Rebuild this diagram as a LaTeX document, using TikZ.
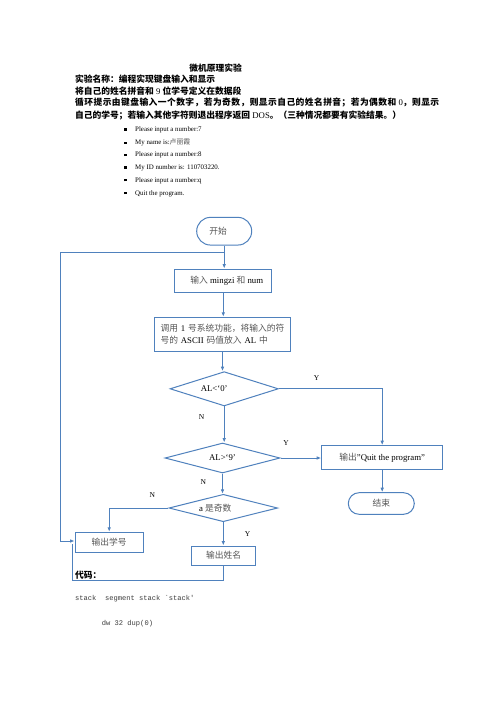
\documentclass[tikz,border=0pt]{standalone}
\usepackage{fontspec}
\setmainfont{Liberation Serif}
\newfontfamily\cjk{Noto Sans CJK SC}
\newfontfamily\codefont{Liberation Mono}
\usetikzlibrary{shapes.geometric,arrows.meta}
\definecolor{flow}{RGB}{79,129,189}
\definecolor{zhgray}{RGB}{85,85,85}
\definecolor{codegray}{RGB}{60,60,60}
\newcommand\myzh[1]{{\cjk\color{zhgray}#1}}
\newcommand\myzhb[1]{{\cjk\bfseries #1}}
\newcommand\bulmark{\makebox[11pt][l]{\rule[0.9pt]{2.4pt}{2.4pt}}}
\begin{document}
\begin{tikzpicture}[x=1pt,y=-1pt,
  line/.style={draw=flow,line width=0.9pt},
  arrow/.style={line,-{Latex[length=4.5pt,width=3.6pt]}},
  box/.style={draw=flow,line width=1pt,fill=white,inner sep=0pt,
    font=\fontsize{8.75}{11.7}\selectfont},
  dia/.style={box,diamond,aspect=3},
  hdr/.style={inner sep=0pt,font=\fontsize{8.75}{10.5}\selectfont},
  hdrw/.style={hdr,anchor=west},
  bul/.style={inner sep=0pt,anchor=west,font=\fontsize{6.9}{8}\selectfont},
  yn/.style={inner sep=0pt,font=\fontsize{7.5}{9}\selectfont},
  code/.style={inner sep=0pt,anchor=west,text=codegray,font=\codefont\fontsize{7.1}{9}\selectfont}]
\fill[white] (0,0) rectangle (496,702);
\useasboundingbox (0,0) rectangle (496,702);

% header text
\node[hdr] (t0) at (215.5,68) {\myzhb{微机原理实验}};
\node[hdrw] (t1) at (75,79) {\myzhb{实验名称：编程实现键盘输入和显示}};
\node[hdrw] (t2) at (75,91) {\myzhb{将自己的姓名拼音和} 9 \myzhb{位学号定义在数据段}};
\node[hdrw] (t3) at (75,103) {{\cjk\bfseries\addfontfeatures{LetterSpace=5}循环提示由键盘输入一个数字，若为奇数，则显示自己的姓名拼音；若为偶数和} 0{\cjk\bfseries\addfontfeatures{LetterSpace=5}，则显示}};
\node[hdrw] (t4) at (75,115) {\myzhb{自己的学号；若输入其他字符则退出程序返回} DOS\myzhb{。（三种情况都要有实验结果。）}};

% bullets
\node[bul] (b1) at (124,130) {\bulmark Please input a number:7};
\node[bul] (b2) at (124,142.7) {\bulmark My name is:\myzh{卢丽霞}};
\node[bul] (b3) at (124,155.3) {\bulmark Please input a number:8};
\node[bul] (b4) at (124,168) {\bulmark My ID number is: 110703220.};
\node[bul] (b5) at (124,180.7) {\bulmark Please input a number:q};
\node[bul] (b6) at (124,193.4) {\bulmark Quit the program.};

% flowchart nodes
\node[box,rounded corners=13.8pt,minimum width=55pt,minimum height=27.7pt] (start) at (224.2,231.2) {\myzh{开始}\hspace*{12pt}};
\node[box,minimum width=96.7pt,minimum height=23.7pt] (in) at (223.3,280.9) {\hspace*{7pt}\myzh{输入} mingzi \myzh{和} num};
\node[box,minimum width=136.4pt,minimum height=34.4pt,text width=124pt,align=left] (call) at (222.5,334.5)
  {\myzh{调用} 1 \myzh{号系统功能，将输入的符}\\\myzh{号的} ASCII \myzh{码值放入} AL \myzh{中}};
\node[dia,minimum width=108.3pt,minimum height=34.3pt] (d1) at (224.2,388.8) {AL<‘0’\hspace*{20pt}};
\node[dia,minimum width=115pt,minimum height=30pt] (d2) at (222.5,458) {AL>‘9’};
\node[box,minimum width=121pt,minimum height=23.6pt] (quit) at (382.2,457.5) {\myzh{输出}"Quit the program"};
\node[box,rounded corners=10.8pt,minimum width=66pt,minimum height=21.6pt] (end) at (381.3,503.5) {\myzh{结束}};
\node[dia,minimum width=108.7pt,minimum height=27.4pt] (d3) at (223.3,508) {a \myzh{是奇数}\hspace*{16pt}};
\node[box,minimum width=68.3pt,minimum height=20pt] (xh) at (109.2,542.3) {\myzh{输出学号}};
\node[box,minimum width=64pt,minimum height=19pt] (xm) at (223.7,555.5) {\myzh{输出姓名}};

% labels
\node[yn] (y1) at (316.7,378) {Y};
\node[yn] (n1) at (201.7,416.7) {N};
\node[yn] (y2) at (286,443) {Y};
\node[yn] (n2) at (203.3,482.3) {N};
\node[yn] (n3) at (152.3,495) {N};
\node[yn] (y3) at (247.7,534) {Y};

% connectors
\coordinate (lt) at (60,252.7);
\coordinate (lb) at (60,541);
\coordinate (rb) at (72.7,580);
\coordinate (re) at (72.7,544);
\draw[arrow] (start.south) -- (start.south |- in.north);
\draw[line] (start.south |- lt) -- (lt) -- (lb);
\draw[arrow] (lb) -- (lb -| xh.west);
\draw[arrow] (in.south) -- (in.south |- call.north);
\draw[arrow] (call.south) -- (call.south |- d1.north);
\draw[arrow] (d1.east) -| (quit.north);
\draw[arrow] (d1.south) -- (d1.south |- d2.north);
\draw[arrow] (d2.east) -- (d2.east -| quit.west);
\draw[arrow] (quit.south) -- (quit.south |- end.north);
\draw[arrow] (d2.south) -- (d2.south |- d3.north);
\draw[arrow] (d3.west) -| (xh.north);
\draw[arrow] (d3.south) -- (d3.south |- xm.north);
\draw[line] (xm.south) -- (xm.south |- rb) -- (rb) -- (re);

% code text
\node[hdrw] (dm) at (75,575) {\myzhb{代码：}};
\node[code] (c1) at (75,598.3) {stack\ \ segment stack `stack'};
\node[code] (c2) at (101.7,623.3) {dw 32 dup(0)};
\end{tikzpicture}
\end{document}
